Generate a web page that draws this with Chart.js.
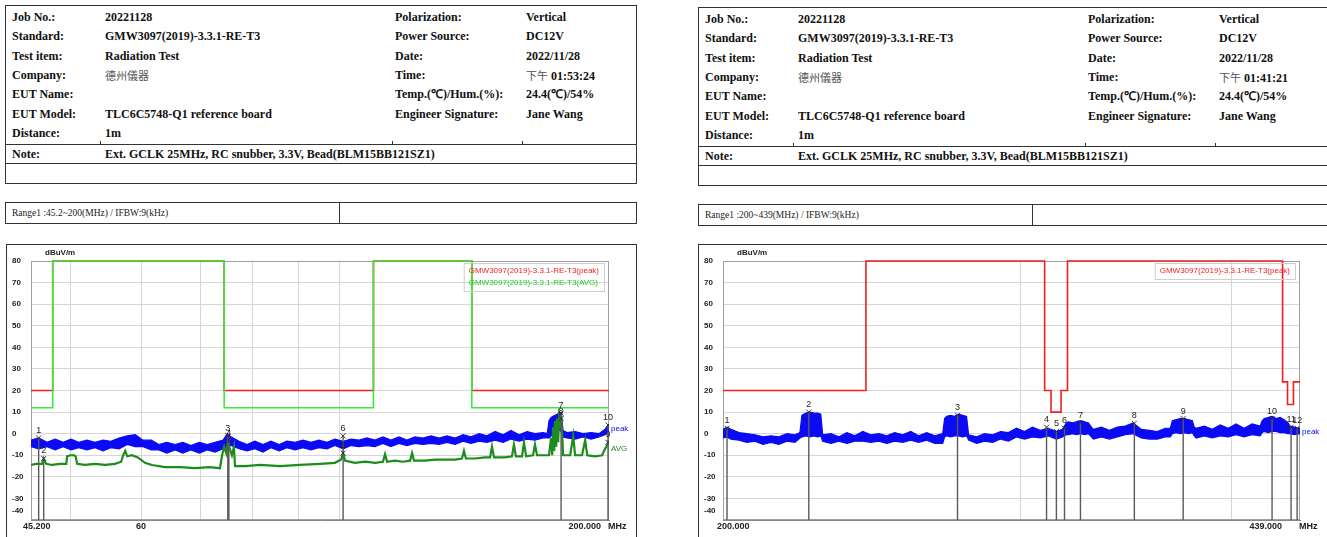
<!DOCTYPE html>
<html>
<head>
<meta charset="utf-8">
<script src="https://cdn.jsdelivr.net/npm/chart.js@4/dist/chart.umd.min.js"></script>
<style>
  body { margin: 0; background: #fff; width: 1327px; height: 537px; overflow: hidden; position: relative;
         font-family: "Liberation Serif", "Times New Roman", serif; color: #111; }
  .box { position: absolute; border: 1.5px solid #333; box-sizing: border-box; }
  .hl { position: absolute; height: 0; border-top: 1.5px solid #333; }
  .vl { position: absolute; width: 0; border-left: 1.5px solid #333; }
  .t { position: absolute; font-weight: bold; font-size: 12px; line-height: 16px; white-space: nowrap; }
  .cjk { font-family: "Noto Sans CJK TC"; font-weight: normal; font-size: 11px; color: #555; }
  .rng { position: absolute; font-size: 9.5px; line-height: 12px; white-space: nowrap; color: #222; }
  canvas { position: absolute; }
</style>
</head>
<body>
<canvas id="leftChart" width="630" height="293" style="left:6px;top:244px"></canvas>
<canvas id="rightChart" width="629" height="293" style="left:698px;top:244px"></canvas>
<script>
// ---- header text ----
const infoLabels = ['Job No.:', 'Standard:', 'Test item:', 'Company:', 'EUT Name:', 'EUT Model:', 'Distance:'];
const infoValues = ['20221128', 'GMW3097(2019)-3.3.1-RE-T3', 'Radiation Test', '<span class="cjk">德州儀器</span>', '', 'TLC6C5748-Q1 reference board', '1m'];
const infoLabels2 = ['Polarization:', 'Power Source:', 'Date:', 'Time:', 'Temp.(℃)/Hum.(%):', 'Engineer Signature:'];
const infoValues2 = ['Vertical', 'DC12V', '2022/11/28', '', '24.4(℃)/54%', 'Jane Wang'];
const testTimes = ['01:53:24', '01:41:21'];
const noteText = 'Ext. GCLK 25MHz, RC snubber, 3.3V, Bead(BLM15BB121SZ1)';
const rangeTexts = ['Range1 :45.2~200(MHz) / IFBW:9(kHz)', 'Range1 :200~439(MHz) / IFBW:9(kHz)'];

// ---- shared axis ----
const yTicks = [80, 70, 60, 50, 40, 30, 20, 10, 0, -10, -20, -30, -40];

// ---- left chart: 45.2 - 200 MHz ----
const leftGrid = [50, 60, 70, 80, 90, 100];
const leftPeakFreq = [45.2, 46.1, 47.1, 48.1, 49.1, 50.1, 51.1, 52.2, 53.3, 54.4, 55.5, 56.7, 57.9, 59.1, 60.3, 61.6, 62.8, 64.1, 65.5, 66.8, 68.2, 69.7, 71.1, 72.6, 74.1,
  74.9,
  75.6, 77.2, 78.8, 80.4, 82.1, 83.8, 85.6, 87.3, 89.2, 91.0, 92.9, 94.8, 96.8, 98.8, 100.9, 103.0, 105.1, 107.3, 109.5, 111.8, 114.1, 116.5, 118.9, 121.4,
  123.9, 126.5, 129.2, 131.8, 134.6, 137.4, 140.2, 143.2, 146.1, 149.2, 152.3, 155.4, 158.7, 162.0, 165.3, 168.8,
  170.6, 171.4, 172.3, 173.2, 174.1, 175.0, 175.9, 176.8, 177.7,
  179.5, 183.3, 187.1, 191.0, 194.9,
  198.0, 200];
const leftPeakHi = [-3, -2, -4, -2.5, -4, -2.5, -4, -3, -4, -3, -3.5, -2, -1, -0.5, -3, -3, -5, -4, -5, -4, -5.5, -4, -5, -4, -3,
  0,
  -1.5, -3.5, -5, -3.5, -5, -3.5, -5, -3.5, -4, -3, -4, -3, -4, -2.5, -3.5, -2.5, -3, -2, -3, -1.5, -3, -1.5, -3, -1.5,
  -2, -1, -2, -1, -2, -0.5, -1.5, 0, -1, 1, -0.5, 1.5, -0.5, 1, 0, 0.5,
  0, 6, 7.5, 8, 8.5, 9, 9.5, 10, 1.5,
  0.5, 1, 0, 0.5, 0,
  2, 4];
const leftPeakLo = [-6, -7, -6, -7.5, -6, -7.5, -6.5, -7.5, -6.5, -8, -6.5, -7, -5, -6, -6, -7.5, -7.5, -9, -7.5, -9, -7.5, -9, -7.5, -8.5, -7,
  -6,
  -5.5, -7, -8, -7, -8.5, -6.5, -8, -6.5, -7.5, -6.5, -7.5, -6.5, -7, -5.5, -7, -5.5, -6, -5.5, -6, -4.5, -6, -4.5, -5.5, -4.5,
  -5, -4.5, -5, -4, -5, -3.5, -4.5, -3.5, -4, -3, -4, -2.5, -3.5, -2.5, -3, -2,
  -2, -2, -1, 0, 1, 1, 2, 1, -1.5,
  -2, -2.5, -1.5, -2.5, -1.5,
  -0.5, 1];
const leftAvgFreq = [45.2, 45.8, 46.5, 46.7, 47.0, 47.7, 48.7, 49.5, 49.6, 50.0, 50.5, 50.7, 50.9, 51.9, 53.3, 54.7, 56.1, 57.0, 57.3, 57.6,
  57.9, 58.6, 59.5, 60.6, 61.7, 63.8, 66.3, 68.9, 71.6, 73.5, 73.9, 74.3, 74.7, 75.0, 75.4, 75.8, 76.2, 76.4, 78.4, 81.5,
  85.8, 90.3, 95.1, 98.8, 100.4, 100.9, 101.4, 104.0, 106.8, 109.6, 111.8, 112.4, 113.0, 115.3, 117.7, 119.9, 120.5, 121.1, 124.6, 127.8,
  131.2, 134.6, 137.0, 137.7, 138.4, 141.7, 145.4, 147.3, 148.0, 148.8, 153.1, 155.8, 156.6, 157.4, 159.9, 160.7, 161.6, 164.5, 165.3, 166.2,
  169.6, 171.4, 172.3, 172.8, 173.2, 173.7, 174.1, 174.6, 175.0, 175.5, 175.9, 176.4, 176.8, 177.3, 177.7, 181.0, 182.4, 183.3, 186.6, 188.1,
  189.1, 193.0, 196.5, 198.0, 199.0, 200];
const leftAvg = [-14.5, -14, -14, -11.5, -14, -14.5, -14, -14, -10.5, -10, -10, -10.5, -14, -14.5, -14, -14.5, -14, -13, -10, -8,
  -10.5, -10, -11, -13.5, -14.5, -15.5, -15.5, -16, -15.5, -16, -10, -6, -9, -4, -7, -10, -6, -15, -15, -14.5,
  -15, -14.5, -14, -13.5, -12, -9, -12.5, -13.5, -13, -13.5, -13, -9.5, -13, -12.5, -13, -12.5, -9, -12.5, -12.5, -12,
  -12, -12, -11.5, -8, -11.5, -11.5, -11, -11, -6, -11, -11, -10.5, -5, -10.5, -10.5, -4, -10.5, -10, -5, -10,
  -10, -10, -2, -10, 3, -8, 6, -6, 7, -4, 8, 5, 8.5, 0, -10, -10, -1, -10, -10, -3,
  -10, -10.5, -10, -7, -5.5, -3];
const leftLimitFreq = [45.2, 47.8, 47.8, 74.3, 74.3, 109.1, 109.1, 140.5, 140.5, 200];
const leftLimitPeak = [20, 20, 80, 80, 20, 20, 80, 80, 20, 20];
const leftLimitAvg = [12, 12, 80, 80, 12, 12, 80, 80, 12, 12];
const leftMarkFreq = [46.1, 46.7, 75.0, 75.2, 100.9, 100.9, 176.8, 176.8, 199.5, 199.5];
const leftMarkLevel = [-2, -11.5, -1, -3.5, -9, -1, 9.5, 7, -4, 4];

// ---- right chart: 200 - 439 MHz ----
const rightGrid = [300, 400];
const rightPeakFreq = [200.0, 201.1, 202.2, 204.4, 206.6, 208.9, 211.2, 213.5, 215.8, 218.2, 220.6,
  222.1, 222.7, 223.9, 225.1, 226.4, 227.6, 228.5, 229.1,
  231.7, 234.2, 236.8, 239.3, 242.0, 244.6, 247.3, 250.0, 252.7, 255.5, 258.3, 261.1, 264.0, 266.9, 269.8,
  270.5, 271.3, 272.7, 274.2, 275.7, 277.2, 278.7, 279.5,
  282.6, 285.6, 288.8, 291.9, 295.1, 298.3, 301.6, 304.9, 308.2, 311.6, 315.0, 317.6,
  319.3, 320.2, 322.0, 323.7, 325.5, 327.3, 329.0, 330.4, 331.3,
  334.9, 338.6, 342.3, 346.0, 349.8, 353.6, 357.5, 361.4, 365.4, 367.9,
  368.9, 370.9, 372.9, 375.0, 377.0, 379.1, 380.1, 381.1,
  385.3, 389.5, 393.8, 398.1, 402.4, 406.8, 411.3, 415.8,
  416.9, 418.1, 420.3, 422.6, 424.9, 427.3, 429.6, 431.9, 433.1, 435.5, 439.0];
const rightPeakHi = [2, 3, 2, 0.5, 0, -0.5, -1.5, -1, -1.5, 0, -0.5,
  0.5, 8.5, 9.5, 10, 9.5, 9.5, 9, -0.5,
  0, -1.5, 0.5, -1, 1, -0.5, 0, -1, 0.5, -0.5, 1, -1, 0.5, -1, 0,
  7, 8, 8.5, 8, 9, 8.5, 8, -0.5,
  -1.5, 0, -0.5, 1, 0.5, 2.5, 1, 3, 1.5, 2.5, 1, 2,
  5, 5.5, 5, 5.5, 6, 5.5, 5, 3, 2,
  3, 1.5, 3, 3.5, 5, 2, 1.5, 1, 2.5, 2.5,
  6, 6.5, 7, 7, 6.5, 6, 3, 2.5,
  3.5, 2, 4, 2.5, 4.5, 2.5, 4.5, 3.5,
  6, 7, 7.5, 8, 7, 7.5, 6.5, 5, 3.5, 3, 2.5];
const rightPeakLo = [-2, -1.5, -2.5, -3, -4, -3.5, -5, -4, -5, -3.5, -4,
  -2, -1.5, -1, -1.5, -1, -1.5, -1, -3.5,
  -4.5, -3.5, -4.5, -3.5, -3.5, -4, -3.5, -4.5, -3.5, -4, -3, -4, -3, -4.5, -4.5,
  -1.5, -1, -1.5, -1, -1, -1.5, -1, -3,
  -4.5, -3.5, -4, -2.5, -3.5, -1.5, -2.5, -1.5, -2, -1, -2.5, -1.5,
  -0.5, -0.5, 0, -0.5, 0, -0.5, 0, -1.5, -2.5,
  -1.5, -2.5, -1.5, -0.5, 0, -2, -2.5, -2.5, -1.5, -1.5,
  0, 0.5, 0, 0.5, 0, 0.5, -1, -2,
  -1, -2, -1, -1.5, -0.5, -1.5, -0.5, -1,
  0.5, 1, 0.5, 1, 1, 0.5, 0.5, 0, 0, -0.5, 0];
const rightLimitFreq = [200, 243, 243, 310, 310, 312.7, 312.7, 317, 317, 319.8, 319.8, 428.7, 428.7, 431.6, 431.6, 435.1, 435.1, 439];
const rightLimitPeak = [20, 20, 80, 80, 20, 20, 10, 10, 20, 20, 80, 80, 24, 24, 13.5, 13.5, 24, 24];
const rightMarkFreq = [201.1, 224.8, 275.3, 310.8, 315.0, 318.5, 325.5, 350.3, 374.4, 422.6, 433.7, 437.3];
const rightMarkLevel = [2.5, 10, 8.5, 3, 1, 2.5, 5, 4.8, 7, 7, 3, 2.5];

const BLUE = '#0a0af5';
const GREEN_TRACE = '#1c8c1c';
const GREEN_LIMIT = '#3de83d';
const RED = '#f02020';
const LIMIT_NAME = 'GMW3097(2019)-3.3.1-RE-T3';

// ---- header / frame boxes ----
function addDiv(cls, css, html) {
  const d = document.createElement('div');
  d.className = cls;
  d.style.cssText = css;
  if (html) d.innerHTML = html;
  document.body.appendChild(d);
}

function buildPanel(ox, oy, idx, boxLeft, w) {
  addDiv('box', `left:${ox}px;top:${oy}px;width:${w}px;height:179px`);
  addDiv('hl', `left:${ox}px;top:${oy + 139}px;width:${w}px`);
  addDiv('hl', `left:${ox}px;top:${oy + 158}px;width:${w}px`);
  [95, 387, 517].forEach(dx => addDiv('vl', `left:${ox + dx}px;top:${oy + 136}px;height:3px`));
  const rowTop = i => Math.round(oy + 12 + 19.3 * i - 8);
  infoLabels.forEach((s, i) => {
    addDiv('t', `left:${ox + 7}px;top:${rowTop(i)}px`, s);
    addDiv('t', `left:${ox + 100}px;top:${rowTop(i)}px`, infoValues[i]);
  });
  infoLabels2.forEach((s, i) => {
    addDiv('t', `left:${ox + 390}px;top:${rowTop(i)}px`, s);
    const v = s === 'Time:' ? `<span class="cjk">下午</span> ${testTimes[idx]}` : infoValues2[i];
    addDiv('t', `left:${ox + 521}px;top:${rowTop(i)}px`, v);
  });
  addDiv('t', `left:${ox + 7}px;top:${oy + 141}px`, 'Note:');
  addDiv('t', `left:${ox + 100}px;top:${oy + 141}px`, noteText);
  // range box
  addDiv('box', `left:${ox}px;top:${oy + 197}px;width:${w}px;height:22px`);
  addDiv('vl', `left:${ox + 334}px;top:${oy + 197}px;height:22px`);
  addDiv('rng', `left:${ox + 7}px;top:${oy + 202}px`, rangeTexts[idx]);
  // chart frame
  addDiv('box', `left:${boxLeft}px;top:244px;width:${w - 1}px;height:320px`);
}
buildPanel(5, 5, 0, 6, 632);
buildPanel(698, 7, 1, 698, 645);

// ---- chart helpers ----
const pts = (xs, ys) => xs.map((x, i) => ({ x, y: ys[i] }));
const stems = (xs, ys) => xs.flatMap((x, i) => [{ x, y: ys[i] }, { x, y: -40 }, { x, y: null }]);

const decor = {
  id: 'decor',
  beforeDatasetsDraw(chart) {
    const { ctx, chartArea: a } = chart;
    ctx.save();
    ctx.strokeStyle = '#a0a0a0';
    ctx.lineWidth = 1;
    ctx.strokeRect(a.left + 0.5, a.top + 0.5, a.width - 1, a.height - 1);
    ctx.restore();
  },
  afterDatasetsDraw(chart, args, o) {
    const { ctx, chartArea: a, scales: { x, y } } = chart;
    ctx.save();

    // marker numbers
    ctx.font = '9px "Liberation Sans"';
    ctx.fillStyle = '#222';
    ctx.textAlign = 'center';
    ctx.textBaseline = 'bottom';
    chart.getDatasetMeta(0).data.forEach((p, i) => ctx.fillText(String(i + 1), p.x, p.y - 3));

    // y tick labels
    ctx.font = 'bold 8px "Liberation Sans"';
    ctx.textAlign = 'left';
    ctx.textBaseline = 'middle';
    yTicks.forEach(v => {
      const py = Math.min(y.getPixelForValue(v), a.bottom - 9);
      ctx.fillText(String(v), a.left - 19, py);
    });
    ctx.fillText('dBuV/m', a.left + 14, a.top - 8);

    // x tick labels
    ctx.font = 'bold 9px "Liberation Sans"';
    o.xLabels.forEach(l => {
      ctx.textAlign = l.align;
      ctx.fillText(l.text, x.getPixelForValue(l.v) + l.dx, a.bottom + 7);
    });
    ctx.textAlign = 'left';
    ctx.fillText('MHz', a.right - 1, a.bottom + 7);

    // trace end labels
    ctx.font = '8px "Liberation Sans"';
    o.endLabels.forEach(l => {
      const els = chart.getDatasetMeta(l.ds).data;
      const p = els[els.length - 1];
      ctx.fillStyle = l.color;
      ctx.fillText(l.text, a.right + 2, p.y + l.dy);
    });

    // limit legend
    ctx.font = '8px "Liberation Sans"';
    const tw = Math.max(...o.legend.map(l => ctx.measureText(l.text).width));
    const bw = tw + 10, bh = o.legend.length * 12 + 4;
    const bx = a.right - 5 - bw, by = a.top + 2;
    ctx.strokeStyle = '#cfcfcf';
    ctx.lineWidth = 1;
    ctx.strokeRect(bx + 0.5, by + 0.5, bw, bh);
    o.legend.forEach((l, i) => {
      ctx.fillStyle = l.color;
      ctx.fillText(l.text, bx + 5, by + 8 + i * 12);
    });
    ctx.restore();
  }
};

function makeChart(id, cfg) {
  const ds = [
    { data: pts(cfg.markFreq, cfg.markLevel), showLine: false, pointStyle: 'crossRot', pointRadius: 3.5,
      pointBorderColor: '#333', pointBorderWidth: 1, order: 0 },
    { data: stems(cfg.markFreq, cfg.markLevel), borderColor: '#5a5a5a', borderWidth: 1.4, pointRadius: 0, spanGaps: false, order: 1 },
  ];
  if (cfg.limitAvg) {
    ds.push({ data: pts(cfg.limitFreq, cfg.limitAvg), borderColor: GREEN_LIMIT, borderWidth: 1.6, pointRadius: 0, clip: 3, order: 2 });
  }
  ds.push({ data: pts(cfg.limitFreq, cfg.limitPeak), borderColor: RED, borderWidth: 1.6, pointRadius: 0, clip: 3, order: 3 });
  if (cfg.avgFreq) {
    ds.push({ data: pts(cfg.avgFreq, cfg.avg), borderColor: GREEN_TRACE, borderWidth: 2.2, pointRadius: 0, order: 4 });
  }
  const hiIdx = ds.length;
  ds.push({ data: pts(cfg.peakFreq, cfg.peakHi), borderColor: BLUE, borderWidth: 1.2, pointRadius: 0,
            fill: '+1', backgroundColor: BLUE, order: 5 });
  ds.push({ data: pts(cfg.peakFreq, cfg.peakLo), borderColor: BLUE, borderWidth: 1.2, pointRadius: 0, order: 6 });

  const endLabels = [{ ds: hiIdx, text: 'peak', color: BLUE, dy: 4 }];
  if (cfg.avgFreq) endLabels.push({ ds: hiIdx - 1, text: 'AVG', color: GREEN_TRACE, dy: 9 });

  return new Chart(document.getElementById(id), {
    type: 'line',
    data: { datasets: ds },
    options: {
      responsive: false,
      animation: false,
      events: [],
      layout: { padding: { left: 6, right: 27, top: 17, bottom: 0 } },
      elements: { line: { tension: 0 } },
      plugins: {
        legend: { display: false },
        tooltip: { enabled: false },
        decor: { xLabels: cfg.xLabels, endLabels, legend: cfg.legend },
      },
      scales: {
        x: {
          type: 'logarithmic',
          min: cfg.xMin,
          max: cfg.xMax,
          afterBuildTicks: s => { s.ticks = cfg.grid.map(v => ({ value: v })); },
          afterFit: s => { s.height = 17; },
          ticks: { display: false },
          grid: { color: '#d6d6d6', drawTicks: false },
          border: { color: '#888' },
        },
        y: {
          min: -40,
          max: 80,
          afterFit: s => { s.width = 19; },
          ticks: { display: false, stepSize: 10 },
          grid: { color: '#d6d6d6', drawTicks: false },
          border: { color: '#888' },
        },
      },
    },
    plugins: [decor],
  });
}

makeChart('leftChart', {
  xMin: 45.2, xMax: 200, grid: leftGrid,
  xLabels: [
    { v: 45.2, text: '45.200', align: 'left', dx: -8 },
    { v: 60, text: '60', align: 'center', dx: 0 },
    { v: 200, text: '200.000', align: 'right', dx: -8 },
  ],
  peakFreq: leftPeakFreq, peakHi: leftPeakHi, peakLo: leftPeakLo,
  avgFreq: leftAvgFreq, avg: leftAvg,
  limitFreq: leftLimitFreq, limitPeak: leftLimitPeak, limitAvg: leftLimitAvg,
  markFreq: leftMarkFreq, markLevel: leftMarkLevel,
  legend: [{ text: LIMIT_NAME + '(peak)', color: RED }, { text: LIMIT_NAME + '(AVG)', color: '#22cc22' }],
});

makeChart('rightChart', {
  xMin: 200, xMax: 439, grid: rightGrid,
  xLabels: [
    { v: 200, text: '200.000', align: 'left', dx: -6 },
    { v: 439, text: '439.000', align: 'right', dx: -18 },
  ],
  peakFreq: rightPeakFreq, peakHi: rightPeakHi, peakLo: rightPeakLo,
  limitFreq: rightLimitFreq, limitPeak: rightLimitPeak,
  markFreq: rightMarkFreq, markLevel: rightMarkLevel,
  legend: [{ text: LIMIT_NAME + '(peak)', color: RED }],
});
</script>
</body>
</html>
